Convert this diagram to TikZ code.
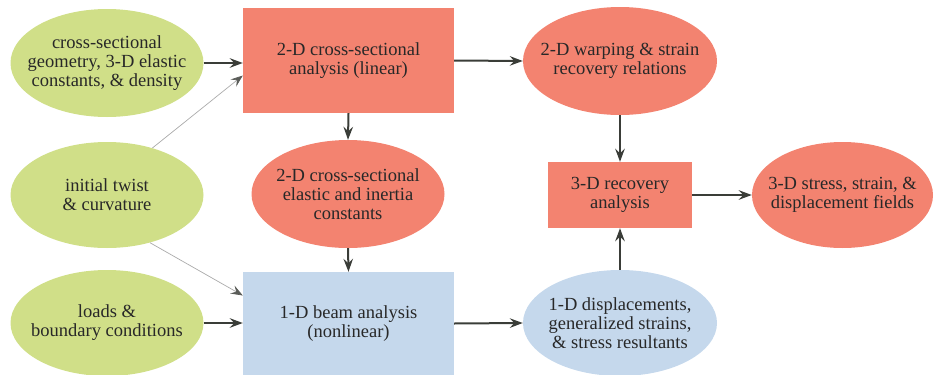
\documentclass[tikz,border=0pt]{standalone}
\usepackage{fontspec}
\setmainfont{Liberation Serif}
\usetikzlibrary{shapes.geometric,arrows.meta,calc}
\definecolor{gfill}{RGB}{208,223,136}
\definecolor{rfill}{RGB}{243,131,112}
\definecolor{bfill}{RGB}{197,216,236}
\definecolor{txtc}{RGB}{40,40,40}
\definecolor{arr}{RGB}{58,61,56}
\definecolor{thinc}{RGB}{170,170,170}
\definecolor{thintip}{RGB}{90,92,88}
\begin{document}
\begin{tikzpicture}[x=1pt,y=-1pt,
  ell/.style={ellipse,draw=none,inner sep=0pt},
  gell/.style={ell,fill=gfill},
  rell/.style={ell,fill=rfill},
  bell/.style={ell,fill=bfill},
  rbox/.style={rectangle,draw=none,fill=rfill,inner sep=0pt},
  bbox/.style={rectangle,draw=none,fill=bfill,inner sep=0pt},
  lbl/.style={align=center,text=txtc,font=\fontsize{18.5}{19}\selectfont,inner sep=0pt},
  main/.style={draw=arr,line width=2pt,-{Stealth[length=13pt,width=9.5pt,inset=4.5pt]}},
  thin/.style={draw=thinc,line width=0.7pt,-{Stealth[length=12pt,width=9pt,inset=4.5pt,color=thintip]}}
]
\useasboundingbox (0,0) rectangle (935,375);
% nodes
\node[gell,minimum width=193pt,minimum height=108pt] (g1) at (107,63) {};
\node[lbl] (g1t) at (g1) {cross-sectional\\geometry, 3-D elastic\\constants, \& density};
\node[gell,minimum width=193pt,minimum height=106pt] (g2) at (107,195) {};
\node[lbl] (g2t) at (g2) {initial twist\\\& curvature};
\node[gell,minimum width=193pt,minimum height=106pt] (g3) at (107,323) {};
\node[lbl] (g3t) at (g3) {loads \&\\boundary conditions};
\node[rbox,minimum width=211pt,minimum height=105pt] (r1) at (348.5,60.5) {};
\node[lbl] (r1t) at (r1) {2-D cross-sectional\\analysis (linear)};
\node[rell,minimum width=193pt,minimum height=108pt] (em) at (348,194) {};
\node[lbl] (emt) at (em) {2-D cross-sectional\\elastic and inertia\\constants};
\node[bbox,minimum width=211pt,minimum height=103pt] (b1) at (348.5,323.5) {};
\node[lbl] (b1t) at (b1) {1-D beam analysis\\(nonlinear)};
\node[rell,minimum width=194pt,minimum height=108pt] (etr) at (620,61) {};
\node[lbl] (etrt) at (etr) {2-D warping \& strain\\recovery relations};
\node[rbox,minimum width=144pt,minimum height=66pt] (rec) at (620,195) {};
\node[lbl] (rect) at (rec) {3-D recovery\\analysis};
\node[rell,minimum width=181pt,minimum height=106pt] (er) at (842.5,195) {};
\node[lbl] (ert) at (er) {3-D stress, strain, \&\\displacement fields};
\node[bell,minimum width=194pt,minimum height=106pt] (ebr) at (620,323) {};
\node[lbl] (ebrt) at (ebr) {1-D displacements,\\generalized strains,\\\& stress resultants};
% connectors
\draw[main] (g1.east) -- (g1.east -| r1.west);
\draw[thin] (g2.46) -- ($(r1.west)+(0,15)$);
\draw[thin] (g2.-48) -- ($(b1.west)+(0,-28)$);
\draw[main] (g3.east) -- (g3.east -| b1.west);
\draw[main] (r1.south) -- (em.north);
\draw[main] (em.south) -- (b1.north);
\draw[main] (r1.east) -- (etr.west);
\draw[main] (b1.east) -- (ebr.west);
\draw[main] (etr.south) -- (rec.north);
\draw[main] (ebr.north) -- (rec.south);
\draw[main] (rec.east) -- (er.west);
\end{tikzpicture}
\end{document}
